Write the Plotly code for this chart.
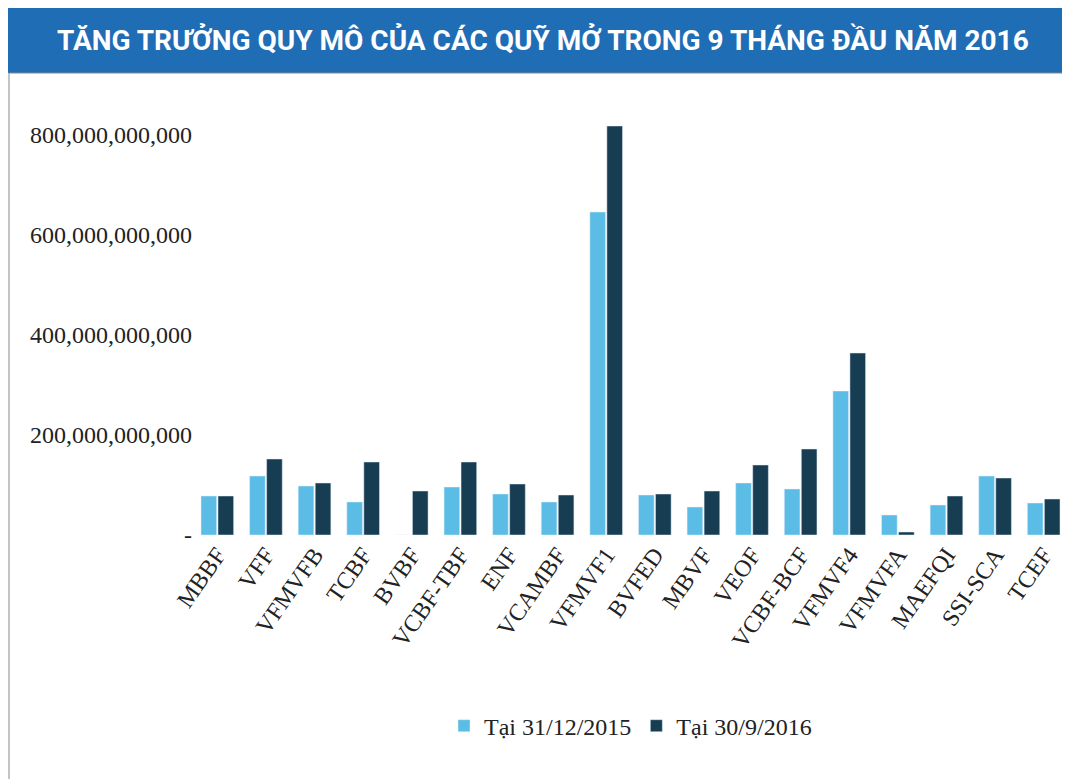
import plotly.graph_objects as go

funds = ["MBBF", "VFF", "VFMVFB", "TCBF", "BVBF", "VCBF-TBF", "ENF", "VCAMBF", "VFMVF1",
         "BVFED", "MBVF", "VEOF", "VCBF-BCF", "VFMVF4", "VFMVFA", "MAEFQI", "SSI-SCA", "TCEF"]
# billions VND
dec_2015 = [78, 118, 98, 66, 0, 96, 82, 66, 646, 80, 56, 104, 92, 288, 40, 60, 118, 64]
sep_2016 = [78, 152, 104, 146, 88, 146, 102, 80, 818, 82, 88, 140, 172, 364, 6, 78, 114, 72]

tick_vals = [0, 200e9, 400e9, 600e9, 800e9]
tick_text = ["-", "200,000,000,000", "400,000,000,000", "600,000,000,000", "800,000,000,000"]

fig = go.Figure()
fig.add_bar(x=funds, y=[v * 1e9 for v in dec_2015], name="Tại 31/12/2015", marker_color="#5bbde6")
fig.add_bar(x=funds, y=[v * 1e9 for v in sep_2016], name="Tại 30/9/2016", marker_color="#163d52")

serif = dict(family="Liberation Serif, Times New Roman, serif", size=24, color="#222")
fig.update_layout(
    width=1070, height=779,
    margin=dict(l=185, r=10, t=107, b=252, autoexpand=False),
    paper_bgcolor="white", plot_bgcolor="white",
    barmode="group", bargap=0.3, bargroupgap=0.08,
    font=serif,
    legend=dict(orientation="h", x=0.5, xanchor="center", y=-0.455, yanchor="middle",
                font=serif),
    showlegend=True,
)
fig.update_yaxes(range=[0, 840e9], tickvals=tick_vals, ticktext=tick_text, automargin=False,
                 showgrid=False, zeroline=False, showline=False, tickfont=serif)
fig.update_xaxes(tickangle=-55, showline=False, tickfont=serif, automargin=False)

# title banner and frame
fig.add_shape(type="rect", xref="paper", yref="paper", x0=-185/875, x1=1 + 10/875,
              y0=1 + 42/420, y1=1 + 107/420, fillcolor="#1f6db5", line_width=0, layer="below")
fig.add_shape(type="rect", xref="paper", yref="paper", x0=-184/875, x1=1 + 9/875,
              y0=-251/420, y1=1 + 42/420, line=dict(color="#888", width=1), layer="below")
fig.add_annotation(text="<b>TĂNG TRƯỞNG QUY MÔ CỦA CÁC QUỸ MỞ TRONG 9 THÁNG ĐẦU NĂM 2016</b>",
                   xref="paper", yref="paper", x=(1070 / 2 - 185) / 875, y=1 + 75/420,
                   showarrow=False, xanchor="center", yanchor="middle",
                   font=dict(family="Roboto, Arial Narrow, sans-serif",
                             size=28, color="white"))

fig.write_html("out.html")
